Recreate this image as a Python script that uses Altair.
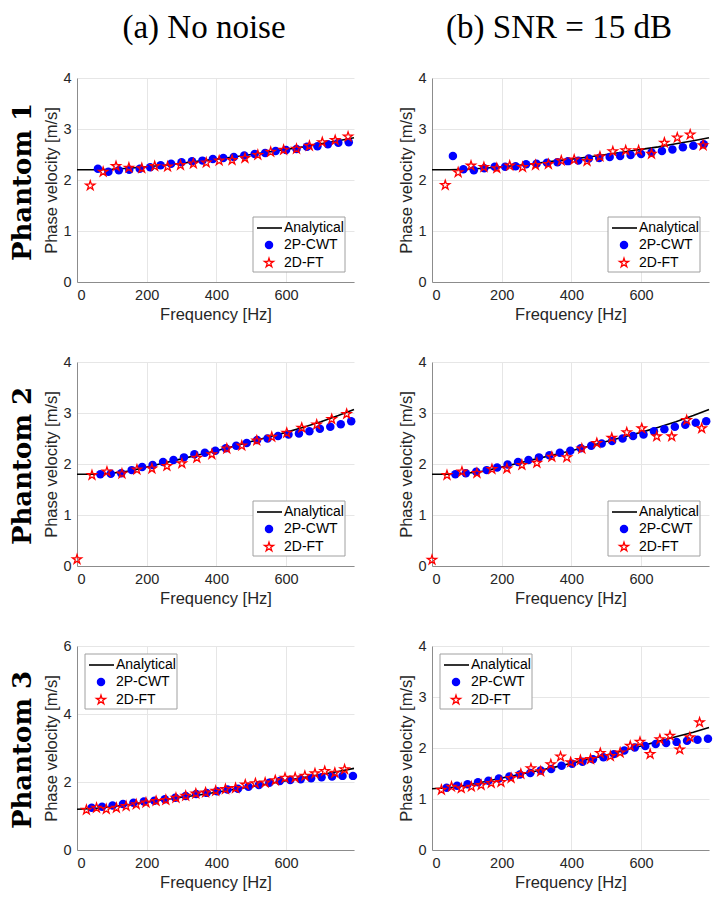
import altair as alt
import pandas as pd

X_MAX = 795
X_TICKS = [0, 200, 400, 600]

# Analytical dispersion curves
AN_FREQ = [0, 50, 100, 150, 200, 250, 300, 350, 400, 450, 500, 550, 600, 650, 700, 750, 795]
AN_P1 = [2.20, 2.20, 2.21, 2.23, 2.26, 2.29, 2.33, 2.37, 2.41, 2.45, 2.50, 2.55, 2.60, 2.65, 2.71, 2.77, 2.83]
AN_P2 = [1.80, 1.80, 1.82, 1.86, 1.94, 2.02, 2.10, 2.18, 2.26, 2.35, 2.44, 2.53, 2.62, 2.72, 2.83, 2.95, 3.07]
AN_P3 = [1.20, 1.22, 1.27, 1.34, 1.41, 1.48, 1.55, 1.62, 1.70, 1.78, 1.86, 1.95, 2.04, 2.13, 2.22, 2.31, 2.40]

# Phantom 1
P1_CWT_F = [60, 90, 120, 150, 180, 210, 240, 270, 300, 330, 360, 390, 420, 450, 480, 510, 540, 570, 600, 630, 660, 690, 720, 750, 780]
P1_FT_F = [38, 75, 112, 149, 186, 223, 260, 297, 334, 371, 408, 445, 482, 519, 556, 593, 630, 667, 704, 741, 778]
P1A_CWT = [2.22, 2.16, 2.19, 2.20, 2.22, 2.25, 2.29, 2.32, 2.35, 2.37, 2.38, 2.41, 2.43, 2.45, 2.48, 2.51, 2.53, 2.57, 2.59, 2.61, 2.65, 2.66, 2.70, 2.73, 2.74]
P1A_FT = [1.89, 2.16, 2.27, 2.24, 2.23, 2.27, 2.26, 2.29, 2.32, 2.34, 2.38, 2.39, 2.43, 2.49, 2.55, 2.59, 2.61, 2.67, 2.74, 2.78, 2.85]
P1B_CWT = [2.47, 2.21, 2.19, 2.23, 2.26, 2.26, 2.27, 2.31, 2.32, 2.34, 2.35, 2.37, 2.38, 2.42, 2.43, 2.45, 2.47, 2.49, 2.51, 2.54, 2.57, 2.60, 2.64, 2.67, 2.70]
P1B_FT = [1.90, 2.15, 2.28, 2.25, 2.23, 2.28, 2.25, 2.29, 2.31, 2.38, 2.40, 2.37, 2.46, 2.56, 2.58, 2.58, 2.51, 2.73, 2.83, 2.89, 2.68]

# Phantom 2
P2_CWT_F = [67, 97, 127, 157, 187, 217, 247, 277, 307, 337, 367, 397, 427, 457, 487, 517, 547, 577, 607, 637, 667, 697, 727, 757, 787]
P2_FT_F = [0, 43, 86, 129, 172, 215, 258, 301, 344, 387, 430, 473, 516, 559, 602, 645, 688, 731, 774]
P2A_CWT = [1.80, 1.81, 1.82, 1.88, 1.94, 1.98, 2.04, 2.08, 2.13, 2.19, 2.22, 2.26, 2.31, 2.36, 2.41, 2.47, 2.50, 2.55, 2.58, 2.60, 2.64, 2.69, 2.73, 2.78, 2.84]
P2A_FT = [0.13, 1.78, 1.85, 1.81, 1.89, 1.91, 1.96, 2.01, 2.12, 2.19, 2.30, 2.36, 2.46, 2.53, 2.61, 2.71, 2.77, 2.88, 2.98]
P2B_CWT = [1.80, 1.82, 1.85, 1.88, 1.93, 1.99, 2.04, 2.08, 2.13, 2.17, 2.22, 2.26, 2.31, 2.36, 2.40, 2.45, 2.50, 2.55, 2.58, 2.64, 2.68, 2.73, 2.77, 2.81, 2.84]
P2B_FT = [0.12, 1.78, 1.85, 1.82, 1.90, 1.91, 1.98, 2.02, 2.14, 2.13, 2.30, 2.41, 2.51, 2.62, 2.70, 2.54, 2.54, 2.86, 2.70]

# Phantom 3
P3_CWT_F = [42, 72, 102, 132, 162, 192, 222, 252, 282, 312, 342, 372, 402, 432, 462, 492, 522, 552, 582, 612, 642, 672, 702, 732, 762, 792]
P3_FT_F = [27, 56, 84, 113, 141, 170, 198, 227, 255, 284, 312, 341, 369, 398, 426, 455, 483, 512, 540, 569, 597, 626, 654, 683, 711, 740, 768]
P3A_CWT = [1.24, 1.27, 1.31, 1.35, 1.39, 1.43, 1.45, 1.49, 1.54, 1.59, 1.65, 1.68, 1.73, 1.78, 1.80, 1.86, 1.91, 1.98, 2.03, 2.06, 2.08, 2.11, 2.14, 2.16, 2.18, 2.18]
P3A_FT = [1.18, 1.24, 1.20, 1.24, 1.29, 1.34, 1.39, 1.44, 1.47, 1.53, 1.59, 1.66, 1.69, 1.74, 1.79, 1.82, 1.92, 1.96, 1.98, 2.05, 2.12, 2.13, 2.18, 2.25, 2.32, 2.27, 2.37]
P3B_CWT = [1.22, 1.26, 1.29, 1.33, 1.36, 1.40, 1.44, 1.48, 1.51, 1.56, 1.59, 1.65, 1.69, 1.73, 1.78, 1.82, 1.88, 1.95, 2.01, 2.04, 2.08, 2.10, 2.12, 2.14, 2.16, 2.18]
P3B_FT = [1.18, 1.24, 1.21, 1.24, 1.27, 1.31, 1.33, 1.41, 1.49, 1.60, 1.54, 1.68, 1.83, 1.72, 1.76, 1.78, 1.90, 1.84, 1.91, 2.04, 2.12, 1.88, 2.17, 2.24, 1.97, 2.21, 2.50]

LEGEND_LABELS = ["Analytical", "2P-CWT", "2D-FT"]
COL_TITLES = ["(a) No noise", "(b) SNR = 15 dB"]
ROW_TITLES = ["Phantom 1", "Phantom 2", "Phantom 3"]

W, H = 277, 204
BLUE = "#0000ff"
RED = "#ff0000"
SANS = "Liberation Sans"
CIRCLE_SIZE = 72
STAR_SIZE = 92
# five-pointed star (MATLAB "pentagram") as a unit SVG path
STAR = ("M0,-1L0.2245,-0.309L0.951,-0.309L0.3633,0.118L0.5878,0.809L0,0.382"
        "L-0.5878,0.809L-0.3633,0.118L-0.951,-0.309L-0.2245,-0.309Z")


def panel(an_vals, cf, cv, sf, sv, ymax, yticks, legend_xy, col_title=None, row_title=None):
    x_enc = alt.X("f:Q", scale=alt.Scale(domain=[0, X_MAX], nice=False),
                  axis=alt.Axis(values=X_TICKS, title="Frequency [Hz]"))
    y_enc = alt.Y("v:Q", scale=alt.Scale(domain=[0, ymax], nice=False),
                  axis=alt.Axis(values=yticks, title="Phase velocity [m/s]"))
    line = alt.Chart(pd.DataFrame({"f": AN_FREQ, "v": an_vals})).mark_line(
        color="black", strokeWidth=1.6).encode(x=x_enc, y=y_enc)
    circ = alt.Chart(pd.DataFrame({"f": cf, "v": cv})).mark_point(
        shape="circle", filled=True, color=BLUE, size=CIRCLE_SIZE, opacity=1).encode(x=x_enc, y=y_enc)
    star = alt.Chart(pd.DataFrame({"f": sf, "v": sv})).mark_point(
        shape=STAR, filled=False, color=RED, size=STAR_SIZE, strokeWidth=1.3, opacity=1).encode(x=x_enc, y=y_enc)

    one = pd.DataFrame({"k": [0]})
    bx, by = legend_xy
    box = alt.Chart(one).mark_rect(fill="white", stroke="#a0a0a0", strokeWidth=1).encode(
        x=alt.value(bx), x2=alt.value(bx + 92), y=alt.value(by), y2=alt.value(by + 55))
    lrule = alt.Chart(one).mark_rule(color="black", strokeWidth=1.6).encode(
        x=alt.value(bx + 4), x2=alt.value(bx + 29), y=alt.value(by + 11))
    lcirc = alt.Chart(one).mark_point(shape="circle", filled=True, color=BLUE, size=CIRCLE_SIZE, opacity=1).encode(
        x=alt.value(bx + 16), y=alt.value(by + 28))
    lstar = alt.Chart(one).mark_point(shape=STAR, filled=False, color=RED, size=STAR_SIZE, strokeWidth=1.3, opacity=1).encode(
        x=alt.value(bx + 16), y=alt.value(by + 46))
    layers = [line, circ, star, box, lrule, lcirc, lstar]
    for i, lab in enumerate(LEGEND_LABELS):
        layers.append(alt.Chart(one).mark_text(
            align="left", baseline="middle", font=SANS, fontSize=14, color="black").encode(
            x=alt.value(bx + 31), y=alt.value(by + [11, 28, 46][i]), text=alt.value(lab)))
    if col_title:
        layers.append(alt.Chart(one).mark_text(
            align="center", baseline="middle", font="Liberation Serif", fontSize=33, color="black").encode(
            x=alt.value(127), y=alt.value(-50), text=alt.value(col_title)))
    if row_title:
        layers.append(alt.Chart(one).mark_text(
            align="center", baseline="middle", font="DejaVu Serif", fontWeight="bold", fontSize=26,
            angle=270, color="black").encode(
            x=alt.value(-54), y=alt.value(104), text=alt.value(row_title)))
    return alt.layer(*layers).properties(width=W, height=H)


LR = (176, 139)
UL = (8, 8)
p11 = panel(AN_P1, P1_CWT_F, P1A_CWT, P1_FT_F, P1A_FT, 4, [0, 1, 2, 3, 4], LR, COL_TITLES[0], ROW_TITLES[0])
p12 = panel(AN_P1, P1_CWT_F, P1B_CWT, P1_FT_F, P1B_FT, 4, [0, 1, 2, 3, 4], LR, COL_TITLES[1])
p21 = panel(AN_P2, P2_CWT_F, P2A_CWT, P2_FT_F, P2A_FT, 4, [0, 1, 2, 3, 4], LR, None, ROW_TITLES[1])
p22 = panel(AN_P2, P2_CWT_F, P2B_CWT, P2_FT_F, P2B_FT, 4, [0, 1, 2, 3, 4], LR)
p31 = panel(AN_P3, P3_CWT_F, P3A_CWT, P3_FT_F, P3A_FT, 6, [0, 2, 4, 6], UL, None, ROW_TITLES[2])
p32 = panel(AN_P3, P3_CWT_F, P3B_CWT, P3_FT_F, P3B_FT, 4, [0, 1, 2, 3, 4], UL)

chart = alt.concat(
    p11, p12, p21, p22, p31, p32, columns=2,
    spacing=alt.RowColnumber(row=80, column=78), bounds="flush",
).properties(
    padding={"left": 2, "top": 4, "right": 0, "bottom": 0}
).configure_view(stroke=None).configure_axis(
    labelFont=SANS, labelFontSize=14.5, labelColor="#262626",
    titleFont=SANS, titleFontSize=16.5, titleColor="#262626", titleFontWeight="normal",
    domainColor="#8c8c8c", domainWidth=1, gridColor="#e6e6e6", gridWidth=1, grid=True,
    ticks=False,
).configure_axisX(labelPadding=6, titlePadding=5).configure_axisY(labelPadding=6, titlePadding=3)

chart.save("out.html", embed_options={"renderer": "svg", "actions": False})
